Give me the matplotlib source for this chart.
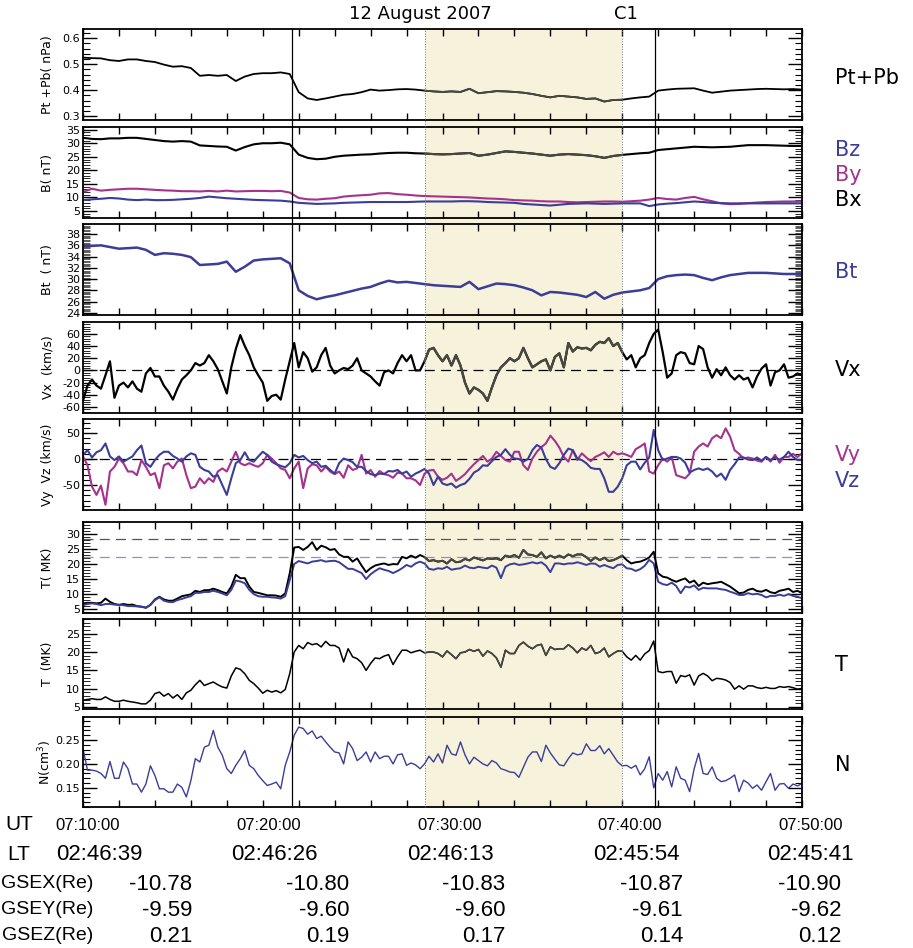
import numpy as np
import matplotlib
matplotlib.use("Agg")
import matplotlib.pyplot as plt
from matplotlib.ticker import MultipleLocator
from matplotlib.transforms import blended_transform_factory
from matplotlib.patches import Rectangle
from matplotlib.lines import Line2D

plt.rcParams['font.family'] = 'DejaVu Sans'
plt.rcParams['axes.unicode_minus'] = False

# time in minutes after 07:10:00 UT
t_slow = np.arange(81) * 0.5
t_fast = np.arange(161) * 0.25

# --- magnetic field / pressure (0.5 min) ---
ptpb = [0.525, 0.523, 0.522, 0.515, 0.512, 0.518, 0.518, 0.512, 0.508, 0.498,
        0.490, 0.492, 0.485, 0.455, 0.458, 0.455, 0.458, 0.435, 0.452, 0.462,
        0.465, 0.465, 0.468, 0.462, 0.392, 0.368, 0.362, 0.368, 0.375, 0.382,
        0.385, 0.392, 0.402, 0.398, 0.400, 0.403, 0.404, 0.402, 0.398, 0.395,
        0.393, 0.395, 0.393, 0.405, 0.388, 0.392, 0.396, 0.395, 0.393, 0.390,
        0.385, 0.378, 0.372, 0.378, 0.375, 0.372, 0.366, 0.368, 0.356, 0.362,
        0.363, 0.368, 0.372, 0.375, 0.398, 0.402, 0.405, 0.406, 0.407, 0.398,
        0.390, 0.394, 0.398, 0.400, 0.402, 0.404, 0.405, 0.404, 0.403, 0.404,
        0.402]
bx = [32.0, 31.6, 31.5, 31.8, 31.8, 32.0, 32.0, 31.6, 31.2, 30.8,
      30.6, 30.8, 30.6, 29.2, 29.0, 28.8, 28.7, 27.3, 28.6, 29.6,
      30.0, 30.0, 30.2, 29.6, 25.8, 24.6, 24.1, 24.3, 25.0, 25.4,
      25.6, 25.8, 25.9, 26.2, 26.4, 26.5, 26.5, 26.3, 26.2, 26.0,
      25.9, 26.0, 26.2, 26.4, 25.4, 25.8, 26.4, 27.0, 26.8, 26.5,
      26.2, 25.8, 25.4, 25.8, 26.0, 25.8, 25.6, 25.2, 24.6, 25.3,
      25.7, 26.0, 26.3, 26.5, 27.5, 27.8, 28.1, 28.4, 28.7, 28.6,
      28.5, 28.6, 28.7, 29.0, 29.3, 29.3, 29.3, 29.2, 29.1, 29.0,
      29.0]
by = [12.0, 13.2, 12.5, 12.8, 13.0, 13.2, 13.2, 13.0, 12.8, 12.6,
      12.5, 12.3, 12.3, 12.2, 12.4, 12.2, 12.5, 12.2, 12.3, 12.4,
      12.4, 12.3, 12.4, 11.8, 9.8, 9.3, 9.2, 9.5, 9.7, 10.3,
      10.6, 10.8, 11.0, 11.5, 11.6, 11.2, 11.0, 10.7, 10.5, 10.4,
      10.3, 10.2, 10.1, 10.0, 9.8, 9.6, 9.5, 9.3, 9.0, 8.9,
      8.8, 8.6, 8.5, 8.5, 8.3, 8.2, 8.3, 8.4, 8.5, 8.5,
      8.4, 8.6, 8.8, 9.2, 9.8, 9.4, 9.2, 9.8, 10.2, 9.3,
      8.6, 7.8, 7.5, 7.6, 7.9, 8.1, 8.3, 8.4, 8.5, 8.5,
      8.6]
bz = [9.0, 9.3, 9.5, 9.8, 9.6, 9.2, 9.0, 9.2, 9.0, 9.0,
      9.1, 9.3, 9.5, 9.8, 10.3, 10.0, 9.7, 9.5, 9.3, 9.1,
      9.0, 8.9, 8.8, 8.5, 8.0, 7.8, 7.6, 7.7, 7.8, 8.0,
      8.1, 8.2, 8.3, 8.3, 8.3, 8.3, 8.3, 8.4, 8.5, 8.5,
      8.5, 8.5, 8.6, 8.6, 8.5, 8.3, 8.2, 8.1, 8.0, 7.6,
      7.4, 7.2, 7.0, 7.3, 7.6, 7.7, 7.8, 7.7, 7.6, 7.7,
      7.8, 7.8, 7.8, 6.8, 7.4, 7.7, 7.9, 8.2, 8.5, 8.3,
      8.0, 7.9, 7.8, 7.8, 7.8, 7.8, 7.8, 7.8, 7.8, 7.8,
      7.8]
bt = [35.8, 35.9, 36.0, 35.7, 35.4, 35.5, 35.6, 35.2, 34.3, 34.6,
      34.5, 34.3, 33.9, 32.5, 32.6, 32.7, 33.1, 31.3, 32.2, 33.3,
      33.5, 33.6, 33.7, 32.8, 28.0, 27.0, 26.4, 26.8, 27.1, 27.5,
      27.9, 28.3, 28.6, 29.2, 29.7, 29.4, 29.5, 29.3, 29.1, 28.9,
      28.8, 28.7, 28.6, 29.5, 28.2, 28.7, 29.2, 29.1, 28.9, 28.5,
      28.0, 27.1, 27.7, 27.6, 27.4, 27.2, 26.8, 27.7, 26.5, 27.2,
      27.6, 27.8, 28.0, 28.4, 30.0, 30.5, 30.7, 30.8, 30.7, 30.2,
      29.8, 30.3, 30.7, 30.9, 31.1, 31.1, 31.1, 31.0, 30.9, 30.9,
      30.9]

# --- plasma (0.25 min) ---
vx = [-50, -25, -15, -25, -30, -8, 15, -45,
      -25, -20, -28, -18, -30, -35, -5, 4,
      -10, -10, -25, -35, -48, -30, -15, -8,
      0, 12, 8, 12, 25, 15, 2, -18,
      -38, 5, 35, 58, 40, 25, 5, -8,
      -20, -50, -42, -40, -48, -15, 15, 45,
      5, 30, 20, -2, 5, 25, 37, 8,
      -5, 0, 4, 2, 8, 20, 0, -5,
      -10, -18, -25, -3, 0, -5, 12, 25,
      15, 25, 0, 0, 15, 34, 37, 25,
      15, 25, 8, 25, 8, -20, -38, -28,
      -32, -38, -50, -28, -8, 5, 12, 20,
      15, 20, 37, 20, 5, 10, 15, 18,
      0, 22, 28, 5, 45, 31, 38, 36,
      37, 33, 42, 47, 45, 53, 40, 45,
      30, 18, 25, 5, 20, 25, 45, 60,
      67, 30, -12, -5, 25, 30, 28, 12,
      10, 40, 35, 5, -12, 2, -8, 5,
      -8, -15, -8, -15, -12, -28, -10, 3,
      10, -25, -3, 0, 10, -12, -10, -5,
      -8]
vy = [5, -12, -53, -69, -51, -88, -24, -15,
      1, -8, -24, -24, -31, -2, -15, -31,
      -27, -56, -12, -8, -18, -5, 1, -31,
      -56, -53, -37, -47, -37, -44, -24, -18,
      -24, -5, 14, -8, -12, -8, -12, -15,
      -8, 8, 1, -8, -18, -21, -37, -18,
      -5, -56, -18, -10, -12, -24, -15, -24,
      -29, -24, -36, -12, -21, -18, 8, -28,
      -21, -34, -23, -29, -31, -36, -26, -28,
      -37, -37, -41, -50, -28, -22, -21, -34,
      -40, -36, -28, -42, -36, -29, -19, -10,
      -2, 6, -5, 1, 14, 6, -2, -5,
      14, 14, -12, -21, 1, 14, 23, 30,
      45, 35, 22, 4, -5, 17, -2, 11,
      3, -4, 4, 8, 13, 4, 14, 9,
      11, 8, 4, 19, 24, 30, -24, -28,
      -12, 1, -5, 4, -31, -34, -37, -28,
      14, 24, 30, 24, 40, 46, 40, 59,
      43, 17, 10, 1, 3, 1, -3, -5,
      4, -5, 8, -7, 4, 4, 10, 4,
      11]
vz = [8, 17, 3, 13, 17, 30, 5, -2,
      5, -5, 0, 5, 17, 26, -8, -15,
      -2, 8, 14, 14, 6, 1, -5, 5,
      11, 8, -15, -21, -24, -34, -31, -50,
      -69, -37, -8, -2, 13, -2, -5, 5,
      14, 8, -5, -10, -13, -16, -8, 8,
      3, 6, -2, -8, -5, -15, -13, -21,
      -28, -8, 1, -2, -6, -15, -15, -23,
      -29, -31, -28, -29, -23, -24, -21, -28,
      -24, -34, -28, -24, -19, -28, -50, -34,
      -47, -50, -47, -55, -50, -47, -38, -26,
      -21, -12, -13, -4, 4, 8, 19, 8,
      1, 0, -5, 0, 17, 27, 22, 0,
      -15, -19, -8, 8, 20, 17, 1, -2,
      -8, -17, -19, -19, -37, -63, -63, -53,
      -37, -12, -5, -5, -20, -7, 3, 56,
      17, -2, 1, 4, 4, 1, -7, -26,
      -21, -18, -21, -18, -24, -34, -28, -40,
      -21, -10, 3, 3, -1, -2, 3, -3,
      4, -2, 3, -1, 4, 14, 4, -2,
      -2]
t_par = [6.9, 7.1, 7.1, 6.9, 7.1, 8.5, 7.4, 6.7,
         6.4, 6.7, 6.4, 6.5, 6.0, 5.8, 5.5, 6.4,
         8.2, 9.1, 8.2, 7.8, 7.8, 8.5, 9.3, 9.6,
         9.9, 11.1, 10.7, 11.3, 11.3, 11.8, 11.3, 10.7,
         10.2, 12.5, 16.4, 15.3, 15.3, 12.5, 10.7, 10.4,
         10.0, 9.6, 9.6, 9.5, 9.1, 10.2, 16.9, 25.5,
         25.7, 24.7, 25.7, 27.3, 24.7, 26.1, 25.6, 24.7,
         25.0, 23.2, 22.4, 22.4, 20.8, 21.9, 19.5, 17.3,
         18.6, 19.5, 19.9, 20.2, 19.7, 20.0, 19.9, 22.4,
         21.9, 22.8, 22.1, 23.0, 22.3, 21.0, 21.3, 20.8,
         21.1, 20.2, 21.6, 20.6, 20.8, 21.7, 21.2, 22.2,
         21.7, 21.2, 21.9, 21.7, 21.9, 21.3, 22.8, 22.4,
         23.0, 22.1, 24.7, 23.2, 23.0, 22.4, 23.9, 21.9,
         22.8, 22.1, 22.8, 22.1, 23.2, 22.6, 23.2, 23.2,
         22.3, 21.0, 22.2, 21.3, 22.1, 21.0, 21.3, 22.0,
         22.8, 21.3, 20.2, 20.6, 20.8, 21.4, 22.2, 24.1,
         16.9, 15.8, 15.5, 14.7, 14.1, 14.7, 15.2, 13.8,
         14.5, 12.7, 13.8, 13.3, 13.6, 13.8, 14.1, 13.3,
         12.5, 11.4, 10.3, 10.5, 11.4, 11.8, 11.0, 10.8,
         11.4, 10.6, 10.3, 11.1, 11.4, 11.8, 10.7, 11.1,
         10.3]
t_perp = [6.3, 6.7, 6.9, 6.7, 6.3, 6.7, 6.7, 6.5,
          6.4, 6.3, 6.0, 6.0, 5.9, 5.8, 5.4, 6.4,
          8.0, 8.9, 7.8, 7.4, 7.3, 8.0, 8.4, 8.9,
          9.3, 10.4, 10.4, 10.7, 10.7, 11.1, 10.7, 10.2,
          9.6, 11.4, 14.5, 14.2, 13.6, 11.4, 10.0, 9.3,
          9.1, 9.1, 8.9, 8.8, 8.5, 9.3, 14.7, 20.0,
          21.0, 20.6, 20.2, 20.8, 21.0, 21.3, 20.8, 21.0,
          21.1, 20.6, 19.5, 18.4, 18.4, 17.7, 17.0, 15.0,
          16.6, 17.7, 18.6, 18.1, 17.7, 17.0, 17.7, 18.6,
          19.7, 19.1, 20.2, 20.8, 20.2, 18.4, 18.1, 18.6,
          18.4, 19.1, 18.1, 18.4, 18.6, 19.5, 18.8, 18.6,
          19.1, 18.8, 18.6, 19.5, 18.8, 15.3, 19.1, 19.9,
          20.2, 19.7, 19.9, 20.2, 20.6, 20.2, 20.6, 19.5,
          17.3, 20.2, 20.2, 19.9, 20.2, 20.2, 20.6, 20.2,
          19.7, 20.2, 20.1, 19.1, 19.7, 19.1, 18.6, 19.7,
          19.9, 18.6, 18.4, 17.7, 18.3, 19.4, 21.4, 20.2,
          14.1, 13.3, 13.0, 13.8, 12.7, 10.3, 12.5, 12.2,
          12.9, 11.4, 12.1, 11.9, 11.9, 11.9, 11.6, 11.4,
          10.8, 10.3, 9.7, 9.7, 10.3, 9.9, 10.1, 9.7,
          8.9, 9.4, 9.4, 9.8, 9.4, 10.0, 9.4, 9.1,
          8.6]
temp = [6.9, 7.1, 7.3, 7.1, 7.1, 7.8, 7.1, 6.6,
        6.6, 6.9, 6.6, 6.4, 6.2, 5.9, 5.9, 6.9,
        8.7, 9.1, 8.0, 8.7, 7.5, 8.4, 7.1, 8.9,
        9.6, 11.1, 12.3, 10.9, 11.4, 11.85, 11.1, 10.5,
        10.2, 13.5, 15.7, 15.3, 14.1, 12.3, 11.4, 10.2,
        8.8, 9.6, 9.1, 9.5, 8.9, 9.8, 14.1, 20.0,
        21.8, 20.9, 22.6, 22.0, 22.3, 21.4, 22.9, 21.8,
        21.8, 21.1, 17.3, 20.9, 18.7, 18.2, 17.1, 15.0,
        16.9, 18.4, 18.2, 18.9, 19.3, 16.6, 18.7, 20.5,
        20.5, 19.8, 20.2, 20.5, 19.8, 20.0, 20.0, 19.6,
        18.7, 20.3, 19.3, 18.2, 19.8, 20.0, 20.7, 20.2,
        20.7, 18.9, 20.3, 19.6, 18.4, 15.9, 20.5, 19.6,
        19.6, 21.8, 22.7, 21.6, 20.9, 21.8, 22.1, 19.1,
        21.4, 20.7, 20.9, 20.9, 22.0, 21.1, 19.8, 21.1,
        20.5, 21.8, 19.6, 20.0, 21.1, 18.7, 19.6, 20.3,
        20.2, 18.7, 17.8, 19.1, 17.8, 19.5, 20.4, 23.0,
        14.7, 14.4, 14.7, 14.7, 11.5, 13.6, 13.3, 13.8,
        11.0, 13.5, 14.2, 13.5, 12.2, 12.85, 12.7, 12.4,
        11.7, 9.9, 10.8, 9.9, 10.8, 10.8, 10.3, 10.1,
        10.4, 10.1, 10.1, 10.6, 10.4, 10.6, 10.3, 9.9,
        10.1]
dens = [0.232, 0.187, 0.187, 0.185, 0.180, 0.170, 0.205, 0.170,
        0.170, 0.204, 0.190, 0.158, 0.158, 0.141, 0.158, 0.196,
        0.176, 0.148, 0.148, 0.141, 0.141, 0.158, 0.151, 0.131,
        0.165, 0.211, 0.204, 0.235, 0.239, 0.270, 0.235, 0.218,
        0.190, 0.180, 0.197, 0.211, 0.228, 0.197, 0.190, 0.176,
        0.165, 0.155, 0.158, 0.162, 0.148, 0.197, 0.225, 0.260,
        0.277, 0.274, 0.262, 0.269, 0.253, 0.258, 0.246, 0.235,
        0.225, 0.223, 0.200, 0.246, 0.232, 0.207, 0.214, 0.225,
        0.204, 0.225, 0.211, 0.216, 0.216, 0.200, 0.219, 0.221,
        0.197, 0.202, 0.198, 0.190, 0.200, 0.216, 0.204, 0.221,
        0.202, 0.239, 0.221, 0.218, 0.246, 0.219, 0.200, 0.214,
        0.207, 0.200, 0.196, 0.207, 0.202, 0.190, 0.187, 0.183,
        0.182, 0.172, 0.193, 0.214, 0.225, 0.225, 0.205, 0.239,
        0.223, 0.210, 0.198, 0.196, 0.211, 0.223, 0.219, 0.221,
        0.242, 0.228, 0.228, 0.238, 0.221, 0.232, 0.218, 0.204,
        0.196, 0.197, 0.191, 0.197, 0.177, 0.190, 0.215, 0.150,
        0.180, 0.166, 0.184, 0.152, 0.194, 0.170, 0.166, 0.142,
        0.190, 0.222, 0.180, 0.178, 0.194, 0.170, 0.163, 0.165,
        0.170, 0.177, 0.142, 0.166, 0.160, 0.149, 0.156, 0.145,
        0.163, 0.180, 0.145, 0.158, 0.159, 0.149, 0.158, 0.154,
        0.159]

t_par_ref, t_perp_ref = 28.3, 22.5

# bottom table
ut_labels = ['07:10:00', '07:20:00', '07:30:00', '07:40:00', '07:50:00']
lt_labels = ['02:46:39', '02:46:26', '02:46:13', '02:45:54', '02:45:41']
gsex = ['-10.78', '-10.80', '-10.83', '-10.87', '-10.90']
gsey = ['-9.59', '-9.60', '-9.60', '-9.61', '-9.62']
gsez = ['0.21', '0.19', '0.17', '0.14', '0.12']

shade = (19.0, 30.0)          # 07:29:00 - 07:40:00
boundaries = [11.61, 31.84]   # 07:21:37, 07:41:50

BLUE = '#3b3d98'
MAG = '#a5328c'
GREY = '#4a4940'

W, H = 913, 948
fig = plt.figure(figsize=(W / 100, H / 100), dpi=100)
panel_px = [(29, 120), (127, 218), (224, 315), (322, 413),
            (419, 510), (522, 613), (619, 709), (717, 807)]
axes = [fig.add_axes([83 / W, 1 - b / H, 719 / W, (b - t) / H]) for t, b in panel_px]


def style(ax, lo, hi, major, minor, label, minor_w=0.8):
    ax.set_xlim(0, 40)
    ax.set_ylim(lo, hi)
    ax.patch.set_visible(False)
    ax.xaxis.set_major_locator(MultipleLocator(2))
    ax.yaxis.set_major_locator(MultipleLocator(major))
    ax.yaxis.set_minor_locator(MultipleLocator(minor))
    ax.tick_params(axis='x', direction='in', length=5, width=1.0,
                   top=True, bottom=True, labelbottom=False)
    ax.tick_params(axis='y', which='major', direction='in', length=10, width=1.0,
                   left=True, right=True, labelsize=8, pad=2)
    ax.tick_params(axis='y', which='minor', direction='in', length=5, width=minor_w,
                   left=True, right=True)
    for s in ax.spines.values():
        s.set_linewidth(1.3)
    ax.set_ylabel(label, fontsize=9)
    ax.yaxis.set_label_coords(-0.040, 0.5)


def black_line(ax, t, y, lw):
    y = np.asarray(y, dtype=float)
    ax.plot(t, y, color='black', lw=lw)
    inside = (t >= shade[0]) & (t <= shade[1])
    ax.plot(t, np.where(inside, y, np.nan), color=GREY, lw=lw)


ax = axes[0]
black_line(ax, t_slow, ptpb, 1.3)
style(ax, 0.285, 0.635, 0.1, 0.02, 'Pt +Pb( nPa)')

ax = axes[1]
black_line(ax, t_slow, bx, 1.5)
ax.plot(t_slow, by, color=MAG, lw=1.5)
ax.plot(t_slow, bz, color=BLUE, lw=1.5)
style(ax, 2.4, 36, 5, 1, 'B( nT)', minor_w=0.6)

ax = axes[2]
ax.plot(t_slow, bt, color=BLUE, lw=1.8)
style(ax, 23.6, 39.8, 2, 0.25, 'Bt  ( nT)', minor_w=0.45)

ax = axes[3]
ax.axhline(0, color='black', lw=0.9, ls=(0, (8, 5)))
black_line(ax, t_fast, vx, 1.6)
style(ax, -70, 79.5, 20, 4, 'Vx  (km/s)', minor_w=0.6)

ax = axes[4]
ax.axhline(0, color='black', lw=0.9, ls=(0, (8, 5)))
ax.plot(t_fast, vy, color=MAG, lw=1.5)
ax.plot(t_fast, vz, color=BLUE, lw=1.5)
style(ax, -98, 77, 50, 10, 'Vy  Vz (km/s)')

ax = axes[5]
ax.axhline(t_par_ref, color='#555555', lw=0.9, ls=(0, (8, 5)))
ax.axhline(t_perp_ref, color='#8d8fd0', lw=0.9, ls=(0, (8, 5)))
black_line(ax, t_fast, t_par, 1.4)
ax.plot(t_fast, t_perp, color=BLUE, lw=1.4)
style(ax, 3.7, 34, 5, 1, 'T( MK)', minor_w=0.6)

ax = axes[6]
black_line(ax, t_fast, temp, 1.1)
style(ax, 4.5, 29, 5, 1, 'T  (MK)', minor_w=0.6)

ax = axes[7]
ax.plot(t_fast, dens, color=BLUE, lw=1.0)
style(ax, 0.11, 0.298, 0.05, 0.01, 'N(cm$^{3}$)')

# shading and boundary lines through all panels
tr = blended_transform_factory(axes[0].transData, fig.transFigure)
y_top = 1 - panel_px[0][0] / H
y_bot = 1 - panel_px[-1][1] / H
fig.add_artist(Rectangle((shade[0], y_bot), shade[1] - shade[0], y_top - y_bot,
                         transform=tr, facecolor='#f7f2dc', edgecolor='none', zorder=-1))
for x in shade:
    fig.add_artist(Line2D([x, x], [y_bot, y_top], transform=tr, color='#777777',
                          lw=0.7, ls=':', zorder=3))
for x in boundaries:
    fig.add_artist(Line2D([x, x], [y_bot, y_top], transform=tr, color='black',
                          lw=0.9, zorder=3))

# titles and right-hand labels
fig.text(420 / W, 1 - 14 / H, '12 August 2007', ha='center', va='center', fontsize=13)
fig.text(626 / W, 1 - 14 / H, 'C1', ha='center', va='center', fontsize=13)
right = [('Pt+Pb', 78, 'black'), ('Bz', 150, BLUE), ('By', 175, MAG), ('Bx', 200, 'black'),
         ('Bt', 272, BLUE), ('Vx', 370, 'black'), ('Vy', 455, MAG), ('Vz', 481, BLUE),
         ('T', 665, 'black'), ('N', 765, 'black')]
for txt, yp, c in right:
    fig.text(835 / W, 1 - yp / H, txt, ha='left', va='center', fontsize=15, color=c)

# bottom table
tab_font = 'Liberation Sans'
fig.text(19 / W, 1 - 825 / H, 'UT', ha='center', va='center', fontsize=15, family=tab_font)
fig.text(19 / W, 1 - 855 / H, 'LT', ha='center', va='center', fontsize=15, family=tab_font)
for lab, xc in zip(ut_labels, [88, 269, 450, 630, 811]):
    fig.text(xc / W, 1 - 825 / H, lab, ha='center', va='center', fontsize=12, family=tab_font)
for lab, xc in zip(lt_labels, [99, 274, 450, 636, 810]):
    fig.text(xc / W, 1 - 855 / H, lab, ha='center', va='center', fontsize=16, family=tab_font)
rows = [('GSEX(Re)', gsex, 884), ('GSEY(Re)', gsey, 910), ('GSEZ(Re)', gsez, 936)]
for name, vals, yp in rows:
    fig.text(93 / W, 1 - yp / H, name, ha='right', va='center', fontsize=14,
             family=tab_font)
    for v, xr in zip(vals, [192, 349, 505, 683, 841]):
        fig.text(xr / W, 1 - yp / H, v, ha='right', va='center', fontsize=16,
                 family=tab_font)

fig.savefig('out.png', dpi=100)
